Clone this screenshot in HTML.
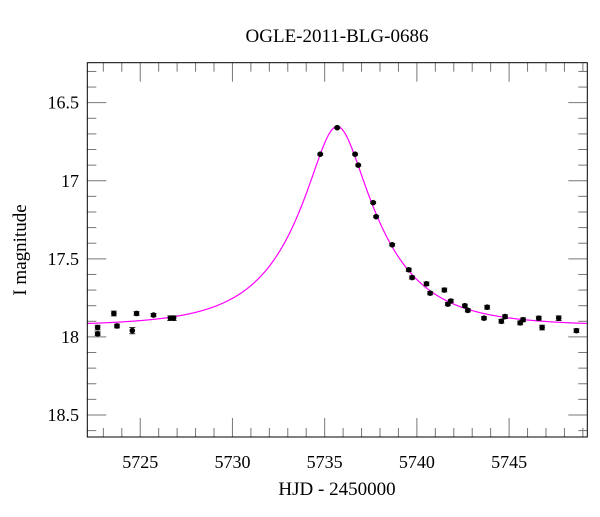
<!DOCTYPE html>
<html><head><meta charset="utf-8"><style>
body{margin:0;background:#fff}
svg text{font-family:"Liberation Serif",serif;fill:#000}
</style></head><body>
<svg width="600" height="512" viewBox="0 0 600 512">
<g id="ticks"></g>
<g id="curve"></g>
<g id="pts"></g>
<rect x="87.3" y="62.7" width="500" height="374.3" fill="none" stroke="#000" stroke-width="1"/>
<g id="labels"></g>
<text x="337" y="42" font-size="19" text-anchor="middle">OGLE-2011-BLG-0686</text>
<text x="337" y="495" font-size="19" text-anchor="middle">HJD - 2450000</text>
<text transform="translate(26,250) rotate(-90)" font-size="19" text-anchor="middle">I magnitude</text>
</svg>
<script>
const hjd=[5722.69,5722.69,5723.57,5723.74,5724.57,5724.80,5725.72,5726.63,5726.81,5734.76,5735.68,5736.65,5736.82,5737.63,5737.79,5738.66,5739.56,5739.74,5740.52,5740.72,5741.49,5741.68,5741.84,5742.60,5742.76,5743.64,5743.81,5744.58,5744.78,5745.60,5745.76,5746.61,5746.79,5747.69,5748.65];
const mag=[17.94,17.98,17.85,17.93,17.96,17.85,17.86,17.88,17.88,16.83,16.66,16.83,16.90,17.14,17.23,17.41,17.57,17.62,17.66,17.72,17.70,17.79,17.77,17.80,17.83,17.88,17.81,17.90,17.87,17.91,17.89,17.88,17.94,17.88,17.96];
const err=[0.015,0.012,0.015,0.012,0.02,0.012,0.01,0.015,0.015,0.006,0.006,0.006,0.006,0.006,0.006,0.008,0.01,0.01,0.012,0.01,0.012,0.01,0.01,0.01,0.01,0.01,0.012,0.012,0.012,0.012,0.012,0.012,0.015,0.015,0.012];
const xTicks=[5725,5730,5735,5740,5745];
const xTickLabels=["5725","5730","5735","5740","5745"];
const yTicks=[16.5,17,17.5,18,18.5];
const yTickLabels=["16.5","17","17.5","18","18.5"];
const model={t0:5735.68,u0:0.32,tE:4.37,base:17.93};
const X0=5722.13,X1=5749.24,Y0=16.244,Y1=18.641;
const L=87.3,R=587.3,T=62.7,B=437;
const sx=v=>L+(v-X0)/(X1-X0)*(R-L);
const sy=v=>T+(v-Y0)/(Y1-Y0)*(B-T);
const NS="http://www.w3.org/2000/svg";
function mk(tag,attrs,parent){const e=document.createElementNS(NS,tag);for(const k in attrs)e.setAttribute(k,attrs[k]);parent.appendChild(e);return e;}
const tg=document.getElementById('ticks'),lg=document.getElementById('labels');
for(let d=Math.ceil(X0);d<=X1;d++){const maj=d%5===0,len=maj?19:9,x=sx(d);
 let a=mk('line',{x1:x,x2:x,y1:B,y2:B-len,stroke:'#777'},tg);
 
 let b=mk('line',{x1:x,x2:x,y1:T,y2:T+len,stroke:'#777'},tg);
 }
for(let i=17;i<=186;i++){const v=i/10;if(v<Y0||v>Y1)continue;const maj=i%5===0,len=maj?19:9,y=sy(v);
 let a=mk('line',{x1:L,x2:L+len,y1:y,y2:y,stroke:'#777'},tg);
 
 let b=mk('line',{x1:R,x2:R-len,y1:y,y2:y,stroke:'#777'},tg);
 }
xTicks.forEach((v,i)=>{const t=mk('text',{x:sx(v),y:468,'font-size':18,'text-anchor':'middle'},lg);t.textContent=xTickLabels[i];
 });
yTicks.forEach((v,i)=>{const t=mk('text',{x:79,y:sy(v)+6,'font-size':18,'text-anchor':'end'},lg);t.textContent=yTickLabels[i];
 });
function modelMag(t){const tau=(t-model.t0)/model.tE,u=Math.sqrt(tau*tau+model.u0*model.u0);const A=(u*u+2)/(u*Math.sqrt(u*u+4));return model.base-2.5*Math.log10(A);}
let d='';for(let i=0;i<=600;i++){const t=X0+(X1-X0)*i/600;d+=(i?'L':'M')+sx(t).toFixed(2)+','+sy(modelMag(t)).toFixed(2);}
const p=mk('path',{d:d,fill:'none',stroke:'#ff00ff','stroke-width':1.2},document.getElementById('curve'));


const pg=document.getElementById('pts');
hjd.forEach((t,i)=>{const x=sx(t),y1=sy(mag[i]-err[i]),y2=sy(mag[i]+err[i]);
 const e=mk('path',{d:`M${x},${y1}V${y2}M${x-3},${y1}H${x+3}M${x-3},${y2}H${x+3}`,stroke:'#333','stroke-width':1},pg);
 
 
 const c=mk('circle',{cx:x,cy:sy(mag[i]),r:2.8,fill:'#000'},pg);
 
 });
</script>
</body></html>
